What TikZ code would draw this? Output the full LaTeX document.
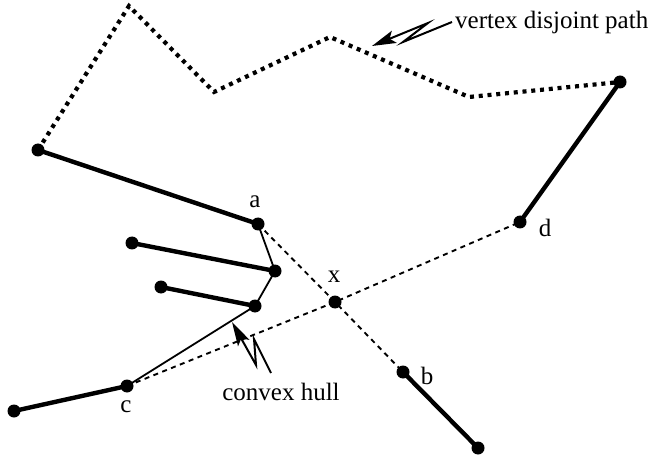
\documentclass[tikz,border=0pt]{standalone}
\usepackage{fontspec}
\setmainfont{Liberation Serif}
\usetikzlibrary{arrows.meta}
\begin{document}
\begin{tikzpicture}[x=1pt,y=-1pt,
  vtx/.style={circle,fill=black,inner sep=0pt,minimum size=13pt},
  thickedge/.style={line width=4.4pt},
  hulledge/.style={line width=1.8pt},
  dashedge/.style={line width=1.9pt,dash pattern=on 5pt off 4.5pt},
  dotpath/.style={line width=4.2pt,dash pattern=on 4pt off 4.8pt},
  lbl/.style={font=\fontsize{25}{30}\selectfont,inner sep=0pt},
  bolt/.style={line width=2pt,-{Stealth[length=24pt,width=13pt,inset=5pt]}}]
\useasboundingbox (0,0) rectangle (658,462);
% vertices
\node[vtx] (p1) at (38,150) {};
\node[vtx] (p6) at (620,82) {};
\node[vtx] (a) at (258,224) {};
\node[vtx] (d) at (520,222) {};
\node[vtx] (x) at (335,302) {};
\node[vtx] (b) at (403,372) {};
\node[vtx] (bb) at (478,448) {};
\node[vtx] (c) at (127,386) {};
\node[vtx] (cc) at (14,411) {};
\node[vtx] (h1) at (275,271) {};
\node[vtx] (h2) at (255,306) {};
\node[vtx] (q1) at (132,243) {};
\node[vtx] (q2) at (161,287) {};
% dotted path
\coordinate (t1) at (129,6);
\coordinate (t2) at (214,92);
\coordinate (t3) at (330,37);
\coordinate (t4) at (469,97);
\draw[dotpath] (p1.center) -- (t1) -- (t2) -- (t3) -- (t4) -- (p6.center);
% thick edges
\draw[thickedge] (p1.center) -- (a.center);
\draw[thickedge] (d.center) -- (p6.center);
\draw[thickedge] (b.center) -- (bb.center);
\draw[thickedge] (c.center) -- (cc.center);
\draw[thickedge] (q1.center) -- (h1.center);
\draw[thickedge] (q2.center) -- (h2.center);
% hull
\draw[hulledge] (a.center) -- (h1.center) -- (h2.center) -- (c.center);
% dashed
\draw[dashedge] (a.center) -- (x.center) -- (b.center);
\draw[dashedge] (c.center) -- (x.center) -- (d.center);
% labels
\node[lbl] (la) at (255,202) {a};
\node[lbl] (ld) at (545,228) {d};
\node[lbl] (lx) at (334,277) {x};
\node[lbl] (lb) at (427,376) {b};
\node[lbl] (lc) at (126,407) {c};
\node[lbl,anchor=west] (lv) at (455,22) {vertex disjoint path};
\node[lbl] (lh) at (281,392) {convex hull};
% lightning arrows
\coordinate (v0) at (452,22);
\coordinate (v1) at (403,42);
\coordinate (v2) at (428,23);
\coordinate (v3) at (372,46);
\draw[bolt] (v0) -- (v1) -- (v2) -- (v3);
\coordinate (c0) at (271,373);
\coordinate (c1) at (254,339);
\coordinate (c2) at (256,365);
\coordinate (c3) at (232,322);
\draw[bolt] (c0) -- (c1) -- (c2) -- (c3);
\end{tikzpicture}
\end{document}
